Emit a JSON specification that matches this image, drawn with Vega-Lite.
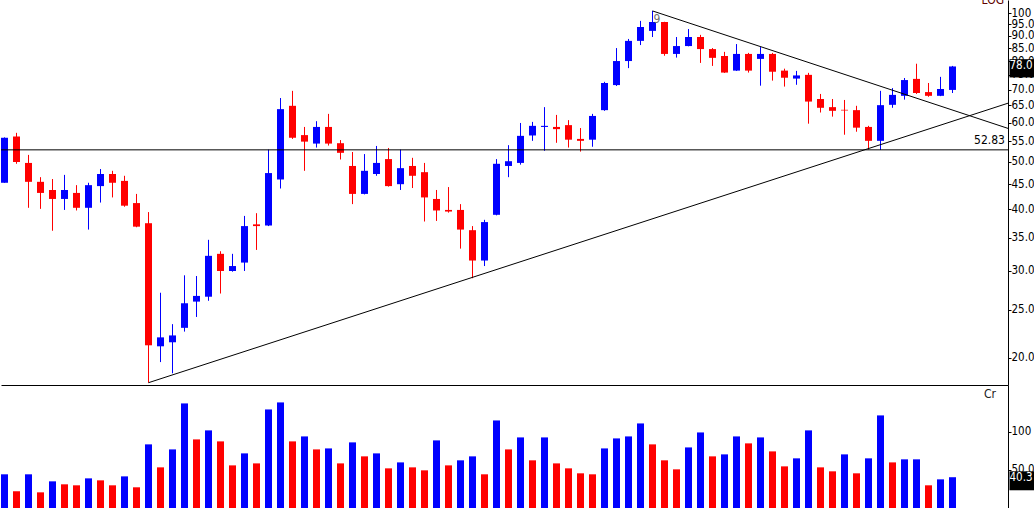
{
  "$schema": "https://vega.github.io/schema/vega-lite/v6.json",
  "padding": 0,
  "background": "white",
  "spacing": 0,
  "config": {"view": {"stroke": null}, "font": "DejaVu Sans Condensed, Liberation Sans, sans-serif"},
  "datasets": {
    "ohlc": [
      {"i":0,"o":45.3,"h":56.0,"l":45.3,"c":55.9,"v":44.1,"vd":"u"},
      {"i":1,"o":56.2,"h":57.2,"l":49.5,"c":49.9,"v":21.8,"vd":"d"},
      {"i":2,"o":49.7,"h":51.6,"l":40.3,"c":45.5,"v":44.1,"vd":"u"},
      {"i":3,"o":45.5,"h":46.5,"l":40.1,"c":43.2,"v":20.5,"vd":"d"},
      {"i":4,"o":43.8,"h":46.1,"l":36.2,"c":42.0,"v":34.9,"vd":"u"},
      {"i":5,"o":42.0,"h":47.0,"l":39.9,"c":43.8,"v":31.0,"vd":"d"},
      {"i":6,"o":43.2,"h":44.8,"l":39.8,"c":40.3,"v":29.7,"vd":"d"},
      {"i":7,"o":40.3,"h":45.3,"l":36.4,"c":44.8,"v":38.8,"vd":"u"},
      {"i":8,"o":44.6,"h":48.3,"l":41.3,"c":47.2,"v":36.2,"vd":"d"},
      {"i":9,"o":47.2,"h":47.9,"l":42.3,"c":45.3,"v":29.7,"vd":"d"},
      {"i":10,"o":45.7,"h":46.8,"l":40.5,"c":40.7,"v":41.4,"vd":"u"},
      {"i":11,"o":41.2,"h":43.0,"l":36.8,"c":36.9,"v":27.1,"vd":"d"},
      {"i":12,"o":37.5,"h":39.5,"l":17.8,"c":21.2,"v":83.3,"vd":"u"},
      {"i":13,"o":21.1,"h":27.1,"l":19.6,"c":22.0,"v":53.2,"vd":"d"},
      {"i":14,"o":21.5,"h":23.4,"l":18.6,"c":22.2,"v":76.7,"vd":"u"},
      {"i":15,"o":23.0,"h":29.4,"l":22.6,"c":25.8,"v":136.9,"vd":"u"},
      {"i":16,"o":26.0,"h":29.3,"l":24.2,"c":26.7,"v":89.8,"vd":"d"},
      {"i":17,"o":26.6,"h":34.7,"l":26.1,"c":32.2,"v":101.6,"vd":"u"},
      {"i":18,"o":32.5,"h":32.9,"l":27.0,"c":30.0,"v":87.2,"vd":"d"},
      {"i":19,"o":30.0,"h":32.5,"l":29.9,"c":30.7,"v":55.8,"vd":"d"},
      {"i":20,"o":31.2,"h":38.8,"l":30.0,"c":37.0,"v":71.5,"vd":"u"},
      {"i":21,"o":37.3,"h":39.3,"l":33.1,"c":37.0,"v":58.4,"vd":"d"},
      {"i":22,"o":37.1,"h":52.9,"l":37.0,"c":47.4,"v":129.0,"vd":"u"},
      {"i":23,"o":46.0,"h":67.3,"l":44.1,"c":63.9,"v":138.2,"vd":"u"},
      {"i":24,"o":64.9,"h":69.6,"l":55.6,"c":55.9,"v":87.2,"vd":"d"},
      {"i":25,"o":56.6,"h":58.8,"l":47.9,"c":54.9,"v":93.7,"vd":"u"},
      {"i":26,"o":54.4,"h":60.4,"l":53.4,"c":58.8,"v":76.7,"vd":"d"},
      {"i":27,"o":58.8,"h":62.5,"l":53.9,"c":54.4,"v":78.0,"vd":"u"},
      {"i":28,"o":54.5,"h":55.3,"l":50.5,"c":52.1,"v":58.4,"vd":"d"},
      {"i":29,"o":49.0,"h":52.3,"l":41.0,"c":43.0,"v":85.9,"vd":"u"},
      {"i":30,"o":43.0,"h":51.8,"l":42.9,"c":47.9,"v":67.6,"vd":"d"},
      {"i":31,"o":47.2,"h":53.8,"l":46.8,"c":49.7,"v":71.5,"vd":"u"},
      {"i":32,"o":50.6,"h":53.3,"l":44.5,"c":44.6,"v":51.9,"vd":"d"},
      {"i":33,"o":45.0,"h":52.9,"l":43.8,"c":48.5,"v":59.7,"vd":"u"},
      {"i":34,"o":49.0,"h":50.9,"l":44.2,"c":46.8,"v":53.2,"vd":"d"},
      {"i":35,"o":47.6,"h":49.7,"l":37.8,"c":42.3,"v":49.3,"vd":"d"},
      {"i":36,"o":42.0,"h":43.8,"l":37.9,"c":39.8,"v":88.5,"vd":"u"},
      {"i":37,"o":39.9,"h":44.4,"l":39.4,"c":39.6,"v":55.8,"vd":"d"},
      {"i":38,"o":39.9,"h":41.0,"l":33.3,"c":36.4,"v":62.4,"vd":"u"},
      {"i":39,"o":36.3,"h":37.0,"l":29.0,"c":31.5,"v":67.6,"vd":"u"},
      {"i":40,"o":31.5,"h":38.1,"l":30.7,"c":37.7,"v":44.1,"vd":"d"},
      {"i":41,"o":39.0,"h":50.6,"l":38.9,"c":49.5,"v":114.6,"vd":"u"},
      {"i":42,"o":49.0,"h":54.0,"l":46.5,"c":50.1,"v":76.7,"vd":"d"},
      {"i":43,"o":49.7,"h":59.9,"l":49.3,"c":56.4,"v":92.4,"vd":"u"},
      {"i":44,"o":56.5,"h":60.2,"l":55.1,"c":59.1,"v":62.4,"vd":"d"},
      {"i":45,"o":58.8,"h":64.5,"l":52.6,"c":59.1,"v":92.4,"vd":"u"},
      {"i":46,"o":58.8,"h":62.2,"l":54.6,"c":58.2,"v":58.4,"vd":"d"},
      {"i":47,"o":59.3,"h":60.7,"l":53.4,"c":55.4,"v":51.9,"vd":"d"},
      {"i":48,"o":55.6,"h":58.5,"l":52.4,"c":55.1,"v":45.4,"vd":"d"},
      {"i":49,"o":55.4,"h":62.5,"l":53.6,"c":61.9,"v":44.1,"vd":"d"},
      {"i":50,"o":63.6,"h":72.6,"l":63.4,"c":72.2,"v":78.0,"vd":"u"},
      {"i":51,"o":71.5,"h":85.0,"l":71.2,"c":80.0,"v":91.1,"vd":"u"},
      {"i":52,"o":80.0,"h":88.7,"l":77.4,"c":87.9,"v":93.7,"vd":"u"},
      {"i":53,"o":87.9,"h":96.5,"l":86.2,"c":93.8,"v":110.7,"vd":"u"},
      {"i":54,"o":92.1,"h":101.1,"l":89.5,"c":96.0,"v":83.3,"vd":"d"},
      {"i":55,"o":96.0,"h":96.1,"l":82.0,"c":82.7,"v":62.4,"vd":"d"},
      {"i":56,"o":82.7,"h":89.5,"l":81.3,"c":85.8,"v":50.6,"vd":"d"},
      {"i":57,"o":85.8,"h":92.9,"l":85.7,"c":89.5,"v":79.3,"vd":"u"},
      {"i":58,"o":89.5,"h":90.4,"l":79.3,"c":84.6,"v":98.9,"vd":"u"},
      {"i":59,"o":84.6,"h":85.0,"l":78.2,"c":81.2,"v":67.6,"vd":"d"},
      {"i":60,"o":81.9,"h":83.5,"l":75.7,"c":75.8,"v":70.2,"vd":"u"},
      {"i":61,"o":76.5,"h":86.6,"l":76.4,"c":82.7,"v":93.7,"vd":"u"},
      {"i":62,"o":82.7,"h":83.1,"l":75.8,"c":76.5,"v":84.6,"vd":"d"},
      {"i":63,"o":80.8,"h":85.4,"l":71.3,"c":82.7,"v":92.4,"vd":"u"},
      {"i":64,"o":82.7,"h":83.1,"l":73.0,"c":76.1,"v":74.1,"vd":"d"},
      {"i":65,"o":76.5,"h":77.2,"l":71.0,"c":74.0,"v":54.5,"vd":"d"},
      {"i":66,"o":73.7,"h":76.4,"l":71.6,"c":74.8,"v":65.0,"vd":"u"},
      {"i":67,"o":75.0,"h":75.7,"l":59.7,"c":66.2,"v":101.6,"vd":"u"},
      {"i":68,"o":67.0,"h":68.6,"l":62.9,"c":64.3,"v":53.2,"vd":"d"},
      {"i":69,"o":64.5,"h":67.0,"l":61.7,"c":63.4,"v":48.0,"vd":"d"},
      {"i":70,"o":63.7,"h":66.7,"l":56.7,"c":63.5,"v":70.2,"vd":"u"},
      {"i":71,"o":63.6,"h":64.9,"l":57.5,"c":58.6,"v":45.4,"vd":"d"},
      {"i":72,"o":58.8,"h":59.1,"l":52.9,"c":55.1,"v":65.0,"vd":"u"},
      {"i":73,"o":55.1,"h":69.6,"l":52.8,"c":65.1,"v":121.2,"vd":"u"},
      {"i":74,"o":65.2,"h":70.5,"l":64.3,"c":68.3,"v":59.7,"vd":"d"},
      {"i":75,"o":68.0,"h":73.9,"l":66.8,"c":73.2,"v":63.7,"vd":"u"},
      {"i":76,"o":73.6,"h":79.0,"l":68.6,"c":68.9,"v":63.7,"vd":"u"},
      {"i":77,"o":69.2,"h":72.2,"l":67.7,"c":68.0,"v":29.7,"vd":"d"},
      {"i":78,"o":68.0,"h":74.3,"l":67.9,"c":70.2,"v":37.5,"vd":"u"},
      {"i":79,"o":69.9,"h":78.2,"l":68.9,"c":78.0,"v":40.3,"vd":"u"}
    ]
  },
  "vconcat": [
    {
      "width": 1007,
      "height": 385,
      "data": {"name": "ohlc"},
      "layer": [
        {
          "mark": {"type": "rule", "strokeWidth": 1},
          "encoding": {
            "x": {"field": "i", "type": "quantitative",
                  "scale": {"domain": [-0.2917, 83.625], "nice": false, "zero": false, "padding": 0},
                  "axis": {"labels": false, "ticks": false, "grid": false, "title": null, "domainColor": "#000000", "domainWidth": 1}},
            "y": {"field": "l", "type": "quantitative",
                  "scale": {"type": "log", "domain": [17.61, 106.4], "nice": false, "padding": 0},
                  "axis": {"orient": "right", "title": null, "grid": false,
                           "values": [20, 25, 30, 35, 40, 45, 50, 55, 60, 65, 70, 75, 80, 85, 90, 95, 100],
                           "labelExpr": "datum.value == 100 ? '100' : format(datum.value, '.1f')",
                           "labelOverlap": false, "labelBound": false, "labelFlush": false,
                           "tickSize": 3, "tickColor": "#000000", "domainColor": "#000000",
                           "labelColor": "#000000", "labelFontSize": 11.5, "labelPadding": 0,
                           "labelFont": "DejaVu Sans Condensed, Liberation Sans, sans-serif"}},
            "y2": {"field": "h"},
            "color": {"condition": {"test": "datum.c >= datum.o", "value": "#0000ff"}, "value": "#ff0000"}
          }
        },
        {
          "mark": {"type": "bar", "size": 7},
          "encoding": {
            "x": {"field": "i", "type": "quantitative"},
            "y": {"field": "o", "type": "quantitative"},
            "y2": {"field": "c"},
            "color": {"condition": {"test": "datum.c >= datum.o", "value": "#0000ff"}, "value": "#ff0000"}
          }
        },
        {
          "data": {"values": [{"p": 52.83, "t": "52.83"}]},
          "layer": [
            {"mark": {"type": "rule", "color": "#000000", "strokeWidth": 1},
             "encoding": {"y": {"field": "p", "type": "quantitative"}}},
            {"mark": {"type": "text", "align": "right", "baseline": "bottom", "dx": -3, "dy": -3, "fontSize": 12, "color": "#000000"},
             "encoding": {"x": {"datum": 83.625}, "y": {"field": "p", "type": "quantitative"}, "text": {"field": "t"}}}
          ]
        },
        {
          "data": {"values": [{"i": 12, "p": 17.8}, {"i": 83.625, "p": 65.7}]},
          "mark": {"type": "line", "color": "#000000", "strokeWidth": 1, "clip": true},
          "encoding": {"x": {"field": "i", "type": "quantitative"}, "y": {"field": "p", "type": "quantitative"}}
        },
        {
          "data": {"values": [{"i": 54, "p": 101.1}, {"i": 83.625, "p": 58.4}]},
          "mark": {"type": "line", "color": "#000000", "strokeWidth": 1, "clip": true},
          "encoding": {"x": {"field": "i", "type": "quantitative"}, "y": {"field": "p", "type": "quantitative"}}
        },
        {
          "data": {"values": [{"i": 54, "p": 101.1, "t": "9"}]},
          "mark": {"type": "text", "align": "left", "baseline": "top", "dx": 1, "dy": 3, "fontSize": 12, "color": "#707070"},
          "encoding": {"x": {"field": "i", "type": "quantitative"}, "y": {"field": "p", "type": "quantitative"}, "text": {"field": "t"}}
        },
        {
          "data": {"values": [{"t": "LOG"}]},
          "mark": {"type": "text", "align": "right", "baseline": "bottom", "dx": -4, "dy": 7, "fontSize": 12, "color": "#600000", "clip": true},
          "encoding": {"x": {"datum": 83.625}, "y": {"datum": 106.4}, "text": {"field": "t"}}
        },
        {
          "data": {"values": [{"p": 78.0, "t": "78.0"}]},
          "layer": [
            {"mark": {"type": "rect", "color": "#000000", "clip": false},
             "encoding": {"x": {"datum": 83.75}, "x2": {"datum": 85.8}, "y": {"datum": 80.7}, "y2": {"datum": 74.1}}},
            {"mark": {"type": "text", "align": "left", "baseline": "middle", "dx": 0, "fontSize": 11.5, "color": "#ffffff", "clip": false},
             "encoding": {"x": {"datum": 83.75}, "y": {"field": "p", "type": "quantitative"}, "text": {"field": "t"}}}
          ]
        }
      ]
    },
    {
      "width": 1007,
      "height": 123,
      "data": {"name": "ohlc"},
      "layer": [
        {
          "mark": {"type": "bar", "size": 7},
          "encoding": {
            "x": {"field": "i", "type": "quantitative",
                  "scale": {"domain": [-0.2917, 83.625], "nice": false, "zero": false, "padding": 0},
                  "axis": {"labels": false, "ticks": false, "grid": false, "title": null, "domainColor": "#000000", "domainWidth": 1}},
            "y": {"field": "v", "type": "quantitative",
                  "scale": {"domain": [0, 161], "nice": false, "padding": 0},
                  "axis": {"orient": "right", "title": null, "grid": false,
                           "values": [50, 100],
                           "labelExpr": "datum.value == 100 ? '100' : format(datum.value, '.1f')",
                           "labelOverlap": false, "labelBound": false, "labelFlush": false,
                           "tickSize": 3, "tickColor": "#000000", "domainColor": "#000000",
                           "labelColor": "#000000", "labelFontSize": 11.5, "labelPadding": 0,
                           "labelFont": "DejaVu Sans Condensed, Liberation Sans, sans-serif"}},
            "color": {"field": "vd", "type": "nominal", "scale": {"domain": ["u", "d"], "range": ["#0000ff", "#ff0000"]}, "legend": null}
          }
        },
        {
          "data": {"values": [{"t": "Cr"}]},
          "mark": {"type": "text", "align": "right", "baseline": "top", "dx": -12, "dy": 4, "fontSize": 12, "color": "#202020"},
          "encoding": {"x": {"datum": 83.625}, "y": {"datum": 161}, "text": {"field": "t"}}
        },
        {
          "data": {"values": [{"q": 40.3, "t": "40.3"}]},
          "layer": [
            {"mark": {"type": "rect", "color": "#000000", "clip": false},
             "encoding": {"x": {"datum": 83.75}, "x2": {"datum": 85.8}, "y": {"datum": 48.0}, "y2": {"datum": 23.2}}},
            {"mark": {"type": "text", "align": "left", "baseline": "middle", "dx": 0, "dy": 1, "fontSize": 11.5, "color": "#ffffff", "clip": false},
             "encoding": {"x": {"datum": 83.75}, "y": {"field": "q", "type": "quantitative"}, "text": {"field": "t"}}}
          ]
        }
      ]
    }
  ]
}
